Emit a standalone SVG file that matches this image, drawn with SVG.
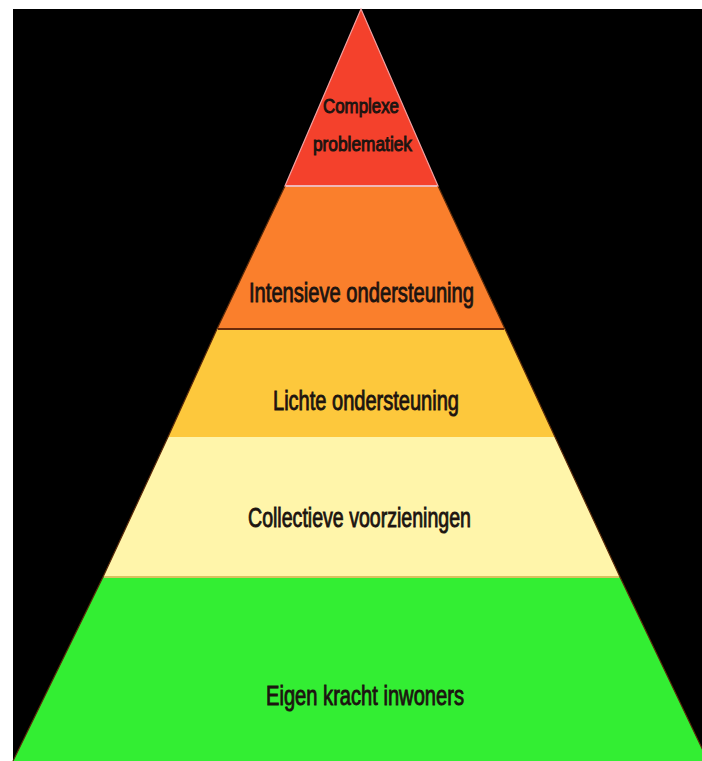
<svg xmlns="http://www.w3.org/2000/svg" width="702" height="761" viewBox="0 0 702 761">
<style>
.lbl{font-family:"Liberation Sans Narrow","Liberation Sans",Arial,sans-serif;fill:#1c1410;font-size:27px;stroke:#1c1410;stroke-width:0.9px}
.sm{font-size:21px;stroke-width:1px}
.edge{fill:none;stroke:#5a2a0a;stroke-width:1.2}
</style>
<rect x="0" y="0" width="702" height="761" fill="#ffffff"/>
<rect x="13" y="9" width="689" height="752" fill="#000000"/>
<g id="green">
<polygon points="103,577 620,577 708,761 13,761" fill="#33ee33"/>
<text class="lbl" x="266" y="705" textLength="198" lengthAdjust="spacingAndGlyphs">Eigen kracht inwoners</text>
</g>
<g id="cream">
<polygon points="168,437 555,437 620,577 103,577" fill="#fff5aa"/>
<line x1="104" y1="577" x2="619" y2="577" stroke="#d8c060" stroke-width="2"/>
<text class="lbl" x="248" y="527" textLength="223" lengthAdjust="spacingAndGlyphs">Collectieve voorzieningen</text>
</g>
<g id="yellow">
<polygon points="217,329 505,329 555,437 168,437" fill="#fdc83c"/>
<text class="lbl" x="273" y="410" textLength="186" lengthAdjust="spacingAndGlyphs">Lichte ondersteuning</text>
</g>
<g id="orange">
<polygon points="285,186 438,186 505,329 217,329" fill="#fa7f2c"/>
<line x1="218" y1="329" x2="504" y2="329" stroke="#6a2a0a" stroke-width="2"/>
<text class="lbl" x="249" y="302" textLength="225" lengthAdjust="spacingAndGlyphs">Intensieve ondersteuning</text>
</g>
<polyline class="edge" points="285,186 217,329 168,437 103,577 13,761"/>
<polyline class="edge" points="438,186 505,329 555,437 620,577 708,761"/>
<g id="red">
<polygon points="361,9 438,186 285,186" fill="#f4412c" stroke="#f2a0a0" stroke-width="1.2"/>
<line x1="286" y1="186" x2="437" y2="186" stroke="#f0b8b8" stroke-width="2"/>
<text class="lbl sm" x="323" y="113" textLength="76" lengthAdjust="spacingAndGlyphs">Complexe</text>
<text class="lbl sm" x="313" y="151" textLength="99" lengthAdjust="spacingAndGlyphs">problematiek</text>
</g>
<g id="connectors"></g>
</svg>
